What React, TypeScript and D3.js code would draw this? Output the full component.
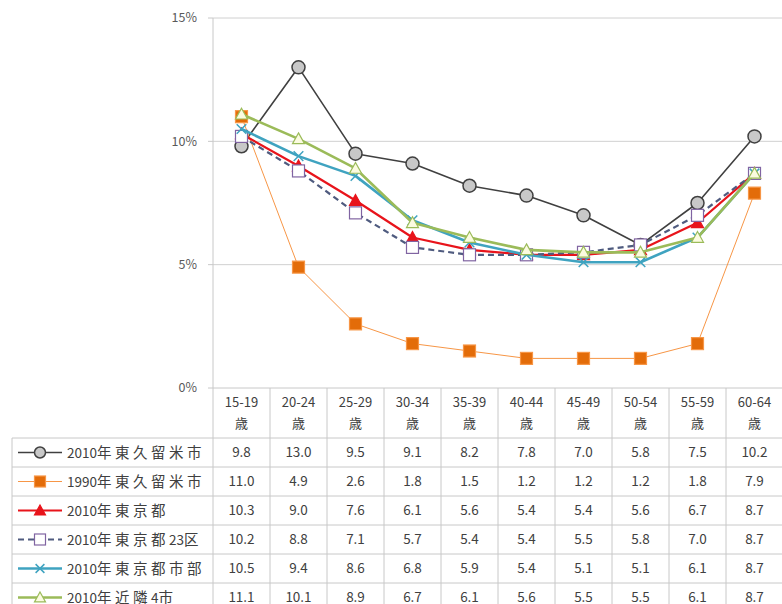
import React from "react";
import * as d3 from "d3";

const categories = ["15-19", "20-24", "25-29", "30-34", "35-39", "40-44", "45-49", "50-54", "55-59", "60-64"];
const seriesNames = ["2010年東久留米市", "1990年東久留米市", "2010年東京都", "2010年東京都23区", "2010年東京都市部", "2010年近隣4市"];
const s2010Higashi = [9.8, 13.0, 9.5, 9.1, 8.2, 7.8, 7.0, 5.8, 7.5, 10.2];
const s1990Higashi = [11.0, 4.9, 2.6, 1.8, 1.5, 1.2, 1.2, 1.2, 1.8, 7.9];
const s2010Tokyo = [10.3, 9.0, 7.6, 6.1, 5.6, 5.4, 5.4, 5.6, 6.7, 8.7];
const s2010Ku = [10.2, 8.8, 7.1, 5.7, 5.4, 5.4, 5.5, 5.8, 7.0, 8.7];
const s2010Shibu = [10.5, 9.4, 8.6, 6.8, 5.9, 5.4, 5.1, 5.1, 6.1, 8.7];
const s2010Kinrin = [11.1, 10.1, 8.9, 6.7, 6.1, 5.6, 5.5, 5.5, 6.1, 8.7];
const yTicks = [0, 5, 10, 15];

const seriesValues = [s2010Higashi, s1990Higashi, s2010Tokyo, s2010Ku, s2010Shibu, s2010Kinrin];

type Style = {
  color: string;
  width: number;
  dash?: string;
  marker: "circle" | "square" | "triangle" | "x";
  fill: string;
  mstroke: string;
};
const styles: Style[] = [
  { color: "#404040", width: 1.6, marker: "circle", fill: "#c8c8c8", mstroke: "#404040" },
  { color: "#F79646", width: 1, marker: "square", fill: "#E36C09", mstroke: "#F79646" },
  { color: "#E8141B", width: 2.2, marker: "triangle", fill: "#E8141B", mstroke: "#E8141B" },
  { color: "#4F5B7F", width: 2.2, dash: "6,4", marker: "square", fill: "#ffffff", mstroke: "#8064A2" },
  { color: "#3FA3C0", width: 2.6, marker: "x", fill: "none", mstroke: "#3FA3C0" },
  { color: "#9BBB59", width: 2.6, marker: "triangle", fill: "#FBFBE0", mstroke: "#9BBB59" },
];

const FONT = "'Noto Sans CJK JP', 'Noto Sans', sans-serif";
const TEXT = "#404040";
const GRID = "#c8c8c8";

function Marker({ s, x, y, size }: { s: Style; x: number; y: number; size: number }) {
  const h = size / 2;
  if (s.marker === "circle")
    return <circle cx={x} cy={y} r={h} fill={s.fill} stroke={s.mstroke} strokeWidth={1.5} />;
  if (s.marker === "square")
    return <rect x={x - h} y={y - h} width={size} height={size} fill={s.fill} stroke={s.mstroke} strokeWidth={1.2} />;
  if (s.marker === "triangle")
    return (
      <path
        d={`M${x},${y - h}L${x + h},${y + h * 0.8}L${x - h},${y + h * 0.8}Z`}
        fill={s.fill}
        stroke={s.mstroke}
        strokeWidth={1.2}
      />
    );
  return (
    <path
      d={`M${x - h * 0.8},${y - h * 0.8}L${x + h * 0.8},${y + h * 0.8}M${x - h * 0.8},${y + h * 0.8}L${x + h * 0.8},${y - h * 0.8}`}
      stroke={s.mstroke}
      strokeWidth={1.5}
      fill="none"
    />
  );
}

function Label({ text, x, y }: { text: string; x: number; y: number }) {
  const runs = text.match(/[0-9A-Za-z]+|[^0-9A-Za-z]+/g) || [];
  return (
    <text x={x} y={y} dy="0.35em" fill={TEXT} fontFamily={FONT}>
      {runs.map((r, i) => {
        const digits = /[0-9]/.test(r);
        return (
          <tspan key={i} fontSize={digits ? 13.5 : 14.5} letterSpacing={digits ? 0 : 3.5}>
            {r}
          </tspan>
        );
      })}
    </text>
  );
}

export default function App() {
  const W = 782;
  const H = 604;
  const plotLeft = 213;
  const step = 57;
  const x = d3
    .scaleBand<string>()
    .domain(categories)
    .range([plotLeft, plotLeft + step * categories.length])
    .padding(0);
  const y = d3.scaleLinear().domain([0, 15]).range([388, 18]);
  const cx = (c: string) => (x(c) as number) + x.bandwidth() / 2;

  const line = d3
    .line<number>()
    .x((_, i) => cx(categories[i]))
    .y((v) => y(v));

  const tableTop = y(0);
  const headerBottom = 438;
  const rowH = 29;
  const legendLeft = 12;
  const rowCenter = (i: number) => headerBottom + rowH * i + rowH / 2;

  return (
    <svg
      width={W}
      height={H}
      style={{ position: "absolute", left: 0, top: 0, background: "#fff" }}
      fontFamily={FONT}
    >
      {/* gridlines */}
      {yTicks.map((t) => (
        <g key={t}>
          {t > 0 && <line x1={plotLeft} x2={W} y1={y(t)} y2={y(t)} stroke="#d0d0d0" strokeWidth={1} />}
          <line x1={plotLeft - 5} x2={plotLeft} y1={y(t)} y2={y(t)} stroke={GRID} />
          <text x={197} y={y(t)} dy="0.35em" textAnchor="end" fontSize={12.5} fill="#595959">
            {t}%
          </text>
        </g>
      ))}
      <line x1={plotLeft} x2={plotLeft} y1={y(15)} y2={H} stroke={GRID} />
      <line x1={plotLeft} x2={W} y1={tableTop} y2={tableTop} stroke={GRID} />

      {/* table grid */}
      {categories.map((c) => (
        <line key={c} x1={(x(c) as number) + step} x2={(x(c) as number) + step} y1={tableTop} y2={H} stroke={GRID} />
      ))}
      <line x1={legendLeft} x2={legendLeft} y1={headerBottom} y2={H} stroke={GRID} />
      {seriesNames.map((_, i) => (
        <line key={i} x1={legendLeft} x2={W} y1={headerBottom + rowH * i} y2={headerBottom + rowH * i} stroke={GRID} />
      ))}

      {/* header labels */}
      {categories.map((c) => (
        <g key={c}>
          <text x={cx(c)} y={402} dy="0.35em" textAnchor="middle" fontSize={13} fill={TEXT}>
            {c}
          </text>
          <text x={cx(c)} y={423} dy="0.35em" textAnchor="middle" fontSize={13} fill={TEXT}>
            歳
          </text>
        </g>
      ))}

      {/* values and legend */}
      {seriesNames.map((name, si) => (
        <g key={name}>
          <line
            x1={18}
            x2={62}
            y1={rowCenter(si)}
            y2={rowCenter(si)}
            stroke={styles[si].color}
            strokeWidth={styles[si].width}
            strokeDasharray={styles[si].dash}
          />
          <Marker s={styles[si]} x={40} y={rowCenter(si)} size={11} />
          <Label text={name} x={67} y={rowCenter(si)} />
          {seriesValues[si].map((v, ci) => (
            <text
              key={ci}
              x={cx(categories[ci])}
              y={rowCenter(si)}
              dy="0.35em"
              textAnchor="middle"
              fontSize={13.5}
              fill={TEXT}
            >
              {v.toFixed(1)}
            </text>
          ))}
        </g>
      ))}

      {/* series */}
      {seriesValues.map((vals, si) => (
        <g key={si}>
          <path
            d={line(vals) || ""}
            fill="none"
            stroke={styles[si].color}
            strokeWidth={styles[si].width}
            strokeDasharray={styles[si].dash}
            strokeLinejoin="round"
          />
          {vals.map((v, i) => (
            <Marker key={i} s={styles[si]} x={cx(categories[i])} y={y(v)} size={si === 0 ? 13 : 12} />
          ))}
        </g>
      ))}
    </svg>
  );
}
